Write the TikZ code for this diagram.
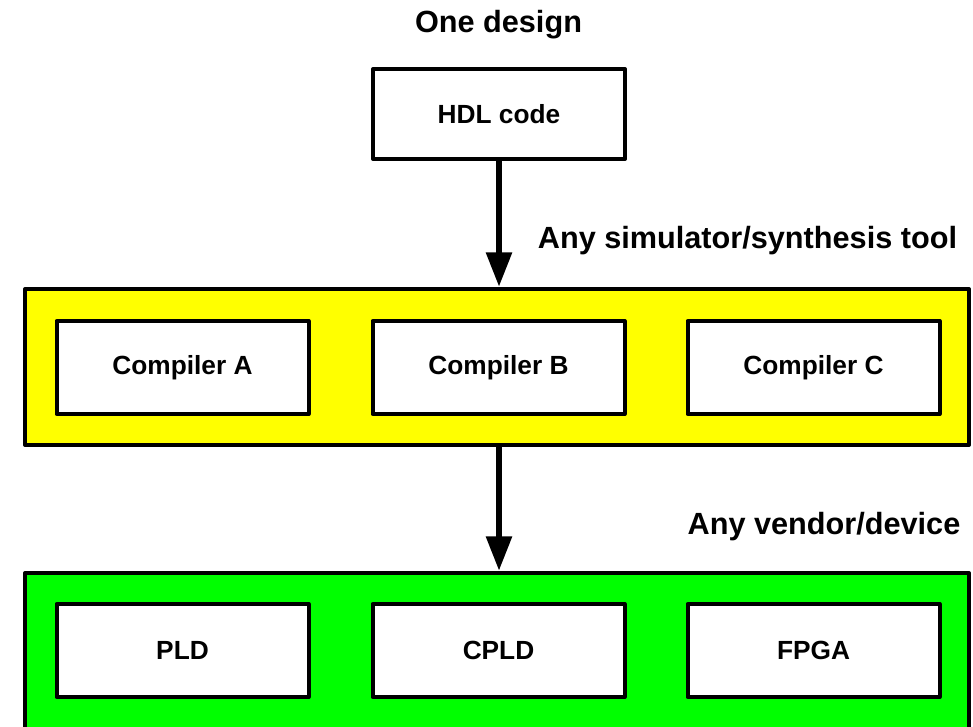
\documentclass[tikz,border=0pt]{standalone}
\usepackage{fontspec}
\setmainfont{Liberation Sans}
\usetikzlibrary{arrows.meta}
\definecolor{simyellow}{RGB}{255,255,0}
\definecolor{devgreen}{RGB}{0,255,0}
\tikzset{every picture/.style={line width=3pt}}
\tikzset{
  groupbox/.style={draw, line join=round, minimum width=708pt, minimum height=117pt, inner sep=0pt},
  unitbox/.style={draw, fill=white, line join=round, minimum width=189pt, minimum height=69.75pt, inner sep=0pt, font=\bfseries\fontsize{19.7}{23}\selectfont},
  steplabel/.style={anchor=base, inner sep=0pt, font=\bfseries\fontsize{23}{27}\selectfont},
  flowarrow/.style={line width=5pt, -{Triangle[length=26pt,width=18.5pt]}}
}

\begin{document}
\begin{tikzpicture}[x=0.75pt,y=0.75pt,yscale=-1,xscale=1]
		\clip (0,0) rectangle (973,726);
		
		%Shape: Rectangle [id:hdl]
		\node [unitbox, minimum height=67.5pt] (hdl) at (499,114) {HDL code};
		%Shape: Rectangle [id:compilers]
		\node [groupbox, fill=simyellow] (compilers) at (497,367) {};
		\node [unitbox] (compA) at (182.5,367.5) {Compiler A};
		\node [unitbox] (compB) at (498.5,367.5) {Compiler B};
		\node [unitbox] (compC) at (813.5,367.5) {Compiler C};
		%Shape: Rectangle [id:devices]
		\node [groupbox, fill=devgreen] (devices) at (497,651) {};
		\node [unitbox] (pld) at (182.5,650.5) {PLD};
		\node [unitbox] (cpld) at (498.5,650.5) {CPLD};
		\node [unitbox] (fpga) at (813.5,650.5) {FPGA};
		
		\draw [flowarrow] (hdl.south) -- (hdl.south |- compilers.north) ;
		\draw [flowarrow] (compilers.south -| hdl.south) -- (devices.north -| hdl.south) ;
		
		\node [steplabel] (design) at (498.5,32) {One design};
		\node [steplabel] (tool) at (747.5,248) {Any simulator/synthesis tool};
		\node [steplabel] (vendor) at (824,534) {Any vendor/device};
		
	\end{tikzpicture}
\end{document}
